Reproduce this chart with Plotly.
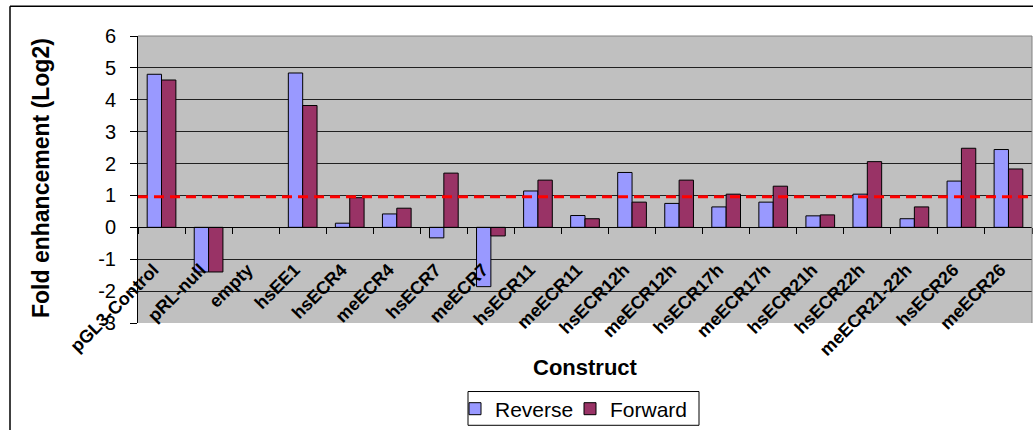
import plotly.graph_objects as go

categories = ["pGL3-Control", "pRL-null", "empty", "hsEE1", "hsECR4", "meECR4", "hsECR7",
              "meECR7", "hsECR11", "meECR11", "hsECR12h", "meECR12h", "hsECR17h", "meECR17h",
              "hsECR21h", "hsECR22h", "meECR21-22h", "hsECR26", "meECR26"]
reverse = [4.80, -1.40, None, 4.84, 0.13, 0.42, -0.33, -1.86, 1.14, 0.37, 1.72, 0.75,
           0.64, 0.79, 0.36, 1.04, 0.27, 1.45, 2.44]
forward = [4.62, -1.40, None, 3.82, 0.93, 0.60, 1.70, -0.27, 1.48, 0.27, 0.79, 1.48,
           1.04, 1.29, 0.39, 2.06, 0.64, 2.48, 1.83]
threshold = 0.96
y_ticks = [-3, -2, -1, 0, 1, 2, 3, 4, 5, 6]

FONT = "Liberation Sans, Arial, sans-serif"
W, H = 1033, 430
L, R, T, B = 138, 1, 36, 105
pw, ph = W - L - R, H - T - B


def px_x(x):
    return (x - L) / pw


def px_y(y):
    return (T + ph - y) / ph


fig = go.Figure()
fig.add_trace(go.Bar(name="Reverse", x=categories, y=reverse, legend="legend",
                     marker=dict(color="#9999FF", line=dict(color="black", width=1))))
fig.add_trace(go.Bar(name="Forward", x=categories, y=forward, legend="legend2",
                     marker=dict(color="#993366", line=dict(color="black", width=1))))

ymin, ymax = y_ticks[0], y_ticks[-1]
zero_pos = (0 - ymin) / (ymax - ymin)

legend_style = dict(orientation="h", xanchor="left", y=px_y(391), yanchor="top",
                    borderwidth=0, bgcolor="rgba(0,0,0,0)",
                    font=dict(size=21, family=FONT), itemwidth=30)

fig.update_layout(
    width=W, height=H,
    margin=dict(l=L, r=R, t=T, b=B, pad=0),
    paper_bgcolor="white", plot_bgcolor="#C0C0C0",
    font=dict(family=FONT, color="black"),
    barmode="group", bargap=0.39, bargroupgap=0,
    showlegend=True,
    legend=dict(x=px_x(455), **legend_style),
    legend2=dict(x=px_x(570), **legend_style),
    xaxis=dict(type="category", categoryorder="array", categoryarray=categories,
               anchor="free", position=zero_pos,
               showline=True, linecolor="black", linewidth=1,
               ticks="outside", ticklen=6, tickcolor="black", tickson="boundaries",
               tickangle=-45, tickfont=dict(size=18, family=FONT, weight="bold"),
               ticklabelstandoff=24, ticklabelshift=-8,
               showgrid=False, zeroline=False),
    yaxis=dict(range=[ymin, ymax], tickvals=y_ticks, ticktext=[str(v) for v in y_ticks],
               showline=True, linecolor="black", linewidth=1,
               ticks="outside", ticklen=7, tickcolor="black",
               tickfont=dict(size=20, family=FONT), ticklabelstandoff=10,
               showgrid=True, gridcolor="#202020", gridwidth=1,
               zeroline=False),
)

# legend frame
fig.add_shape(type="rect", xref="paper", yref="paper",
              x0=px_x(468), x1=px_x(699), y0=px_y(394), y1=px_y(428),
              line=dict(color="black", width=1), fillcolor="rgba(0,0,0,0)")

# y axis title
fig.add_annotation(text="<b>Fold enhancement (Log2)</b>", xref="paper", yref="paper",
                   x=px_x(41), y=px_y(179), xanchor="center", yanchor="middle", textangle=-90,
                   showarrow=False, font=dict(size=23, family=FONT))

# x axis title
fig.add_annotation(text="<b>Construct</b>", xref="paper", yref="paper",
                   x=0.5, y=px_y(370), xanchor="center", yanchor="middle",
                   showarrow=False, font=dict(size=22, family=FONT))

# red dashed reference line
fig.add_shape(type="line", xref="paper", yref="y", x0=0, x1=1, y0=threshold, y1=threshold,
              line=dict(color="#FF0000", width=3, dash="10px,6px"))

# plot area border (top and right, grey)
fig.add_shape(type="line", xref="paper", yref="paper", x0=0, x1=1, y0=1, y1=1,
              line=dict(color="#808080", width=1))
fig.add_shape(type="line", xref="paper", yref="paper", x0=1, x1=1, y0=0, y1=1,
              line=dict(color="#808080", width=1))

# chart frame (top and left, black)
fx = px_x(10)
fy = px_y(6)
fig.add_shape(type="line", xref="paper", yref="paper", x0=fx, x1=px_x(W + 5), y0=fy, y1=fy,
              line=dict(color="black", width=1.5))
fig.add_shape(type="line", xref="paper", yref="paper", x0=fx, x1=fx, y0=fy, y1=px_y(H + 5),
              line=dict(color="black", width=1.5))

fig.write_html("out.html")
